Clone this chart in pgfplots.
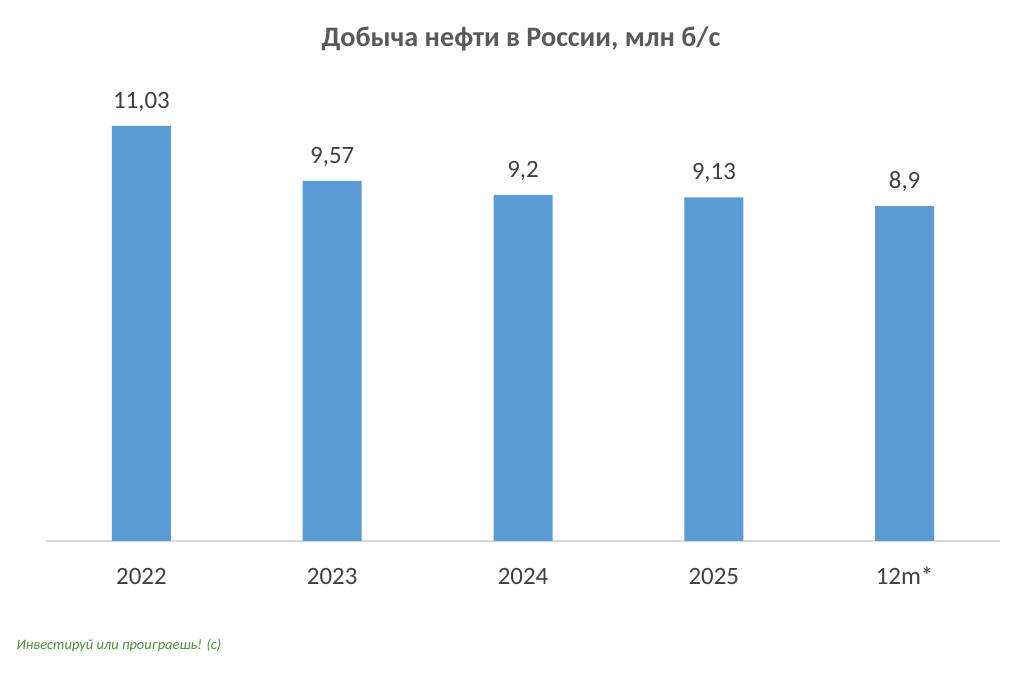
\documentclass[border=0pt]{standalone}
\usepackage{pgfplots}
\pgfplotsset{compat=1.18}
\usepackage{fontspec}
\setmainfont{Carlito}
\definecolor{barblue}{HTML}{5B9BD5}
\definecolor{txt}{HTML}{595959}
\definecolor{lbl}{HTML}{404040}
\definecolor{axgray}{HTML}{D9D9D9}
\definecolor{wm}{HTML}{4E8A3E}
\begin{document}
\begin{tikzpicture}[x=1bp,y=1bp]
\useasboundingbox (0,0) rectangle (1027,691);
\node[font=\fontsize{28.3}{33}\selectfont\bfseries, text=txt] at (521,652) {Добыча нефти в России, млн б/с};
\node[font=\fontsize{14.5}{18}\selectfont\itshape, text=wm, anchor=west] at (13,46) {Инвестируй или проиграешь! (c)};
\begin{axis}[
  at={(46bp,150bp)}, anchor=south west,
  scale only axis,
  width=954bp, height=451.6bp,
  xmin=-0.5, xmax=4.5, ymin=0, ymax=12,
  axis x line=bottom, axis y line=none,
  x axis line style={axgray, line width=1.2pt, -},
  xtick=data,
  xticklabels={2022,2023,2024,2025,12m*},
  major tick length=0pt,
  xticklabel style={font=\fontsize{25}{30}\selectfont, text=lbl, text height=16bp, text depth=0pt, yshift=-24bp},
  ybar, bar width=59bp,
  nodes near coords,
  every node near coord/.append style={font=\fontsize{25}{30}\selectfont, text=lbl, yshift=11bp},
  /pgf/number format/.cd, use comma, fixed, precision=2, assume math mode=true,
]
\addplot[fill=barblue, draw=none] coordinates {(0,11.03) (1,9.57) (2,9.2) (3,9.13) (4,8.9)};
\end{axis}
\end{tikzpicture}
\end{document}
